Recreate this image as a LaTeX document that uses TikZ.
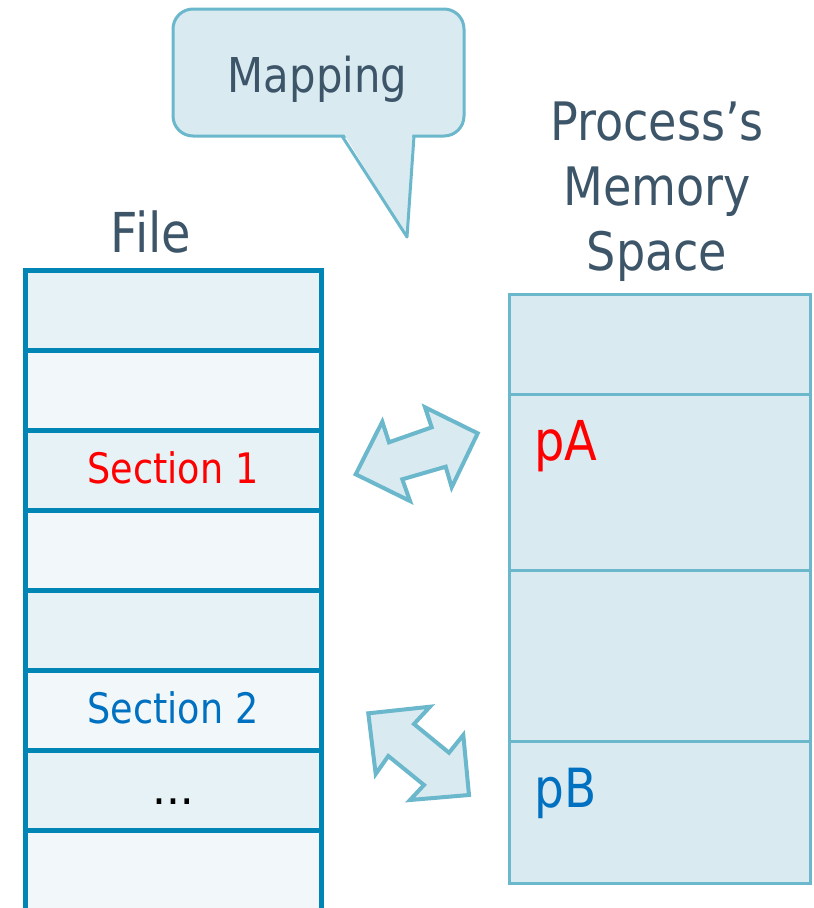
\documentclass[tikz,border=0pt]{standalone}
\usepackage{fontspec}
\setmainfont[FakeStretch=0.87]{DejaVu Sans}
\definecolor{txt}{HTML}{3D5568}
\definecolor{calfill}{HTML}{DAEAF1}
\definecolor{caldraw}{HTML}{6BB7CB}
\definecolor{filedraw}{HTML}{0085B5}
\definecolor{rowdark}{HTML}{E6F2F5}
\definecolor{rowlight}{HTML}{F2F7FA}
\definecolor{secblue}{HTML}{0070C0}
\definecolor{secred}{HTML}{FF0000}
\tikzset{
  lbl/.style={anchor=base, inner sep=0pt, text=txt},
  callout/.style={fill=calfill, draw=caldraw, line width=3pt, line join=round},
  dblarrow/.style={fill=calfill, draw=caldraw, line width=4pt, line join=miter},
  rowd/.style={fill=rowdark},
  rowl/.style={fill=rowlight},
  fileline/.style={draw=filedraw, line width=5pt},
  memline/.style={draw=caldraw, line width=3pt}
}
\begin{document}
\begin{tikzpicture}[x=1pt,y=-1pt]
\useasboundingbox (0,0) rectangle (814,908);
% callout
\draw[callout, rounded corners=20pt] (173,9) rectangle (464,136);
\fill[calfill] (343.5,133) -- (412.5,133) -- (407,237) -- cycle;
\draw[callout, fill=none] (342,136) -- (407,237) -- (414,136);
\node[lbl, font=\fontsize{48}{56}\selectfont] (map) at (317.5,92) {Mapping};
% file title
\node[lbl, font=\fontsize{55}{62}\selectfont] (filet) at (151,252) {File};
% process title
\node[lbl, font=\fontsize{53}{62}\selectfont] (pt1) at (657,140) {Process’s};
\node[lbl, font=\fontsize{53}{62}\selectfont] (pt2) at (657,205) {Memory};
\node[lbl, font=\fontsize{53}{62}\selectfont] (pt3) at (657,270) {Space};
% file rows
\fill[rowd] (25,270.5) rectangle (321,350.5);
\fill[rowl] (25,350.5) rectangle (321,430.5);
\fill[rowd] (25,430.5) rectangle (321,510.5);
\fill[rowl] (25,510.5) rectangle (321,590.5);
\fill[rowd] (25,590.5) rectangle (321,670.5);
\fill[rowl] (25,670.5) rectangle (321,750.5);
\fill[rowd] (25,750.5) rectangle (321,830.5);
\fill[rowl] (25,830.5) rectangle (321,910);
\foreach \yy in {270.5,350.5,430.5,510.5,590.5,670.5,750.5,830.5}
  \draw[fileline] (22.5,\yy) -- (323.5,\yy);
\draw[fileline] (25,268) -- (25,910);
\draw[fileline] (321,268) -- (321,910);
\node[lbl, text=secred, font=\fontsize{42}{50}\selectfont] (s1) at (173,483) {Section 1};
\node[lbl, text=secblue, font=\fontsize{42}{50}\selectfont] (s2) at (173,723) {Section 2};
\node[lbl, text=black, font=\bfseries\fontsize{30}{36}\selectfont] (dots) at (173,804) {.\hspace{4pt}.\hspace{4pt}.};
% memory
\draw[memline, fill=calfill] (509,294) rectangle (810,883);
\draw[memline] (509,394) -- (810,394);
\draw[memline] (509,570) -- (810,570);
\draw[memline] (509,741) -- (810,741);
\node[lbl, anchor=base west, text=secred, font=\fontsize{55}{64}\selectfont] (pa) at (534,460) {pA};
\node[lbl, anchor=base west, text=secblue, font=\fontsize{54}{64}\selectfont] (pb) at (534,807) {pB};
% arrows
\draw[dblarrow] (355.7,474.3) -- (382.3,421.7) -- (389,442.3) -- (431.7,427.3) -- (425,407.3)
  -- (477.7,433.3) -- (451.7,487.3) -- (445.7,466.7) -- (402.3,479.3) -- (410,501) -- cycle;
\draw[dblarrow] (368.3,713.3) -- (430,706.7) -- (414,724) -- (449,752.7) -- (463.3,735)
  -- (469,795) -- (410,800) -- (424,785) -- (388.3,756) -- (375.7,774) -- cycle;
\end{tikzpicture}
\end{document}
